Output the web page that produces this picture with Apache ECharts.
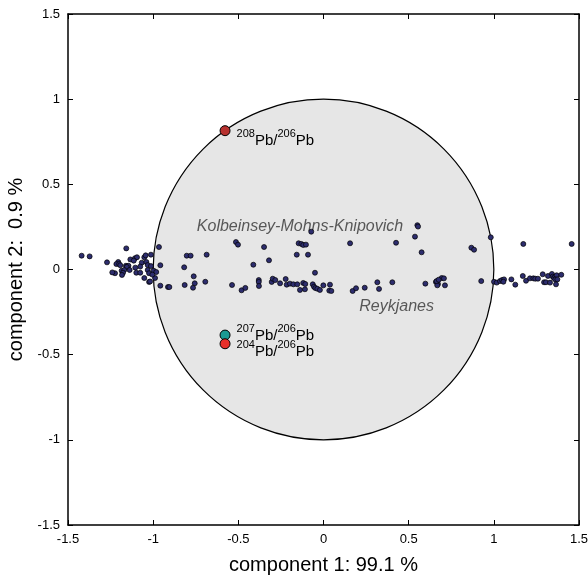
<!DOCTYPE html>
<html><head><meta charset="utf-8">
<script src="https://cdn.jsdelivr.net/npm/echarts@6/dist/echarts.min.js"></script>
<style>html,body{margin:0;padding:0;background:#fff}#c{width:588px;height:577px}</style>
</head><body><div id="c"></div>
<script>
// tick labels
const tickLabels = ['-1.5','-1','-0.5','0','0.5','1','1.5'];
// sample scores (component 1, component 2)
const sampleX = [
-1.420,-1.373,-1.271,-1.158,-1.205,-1.216,-1.200,-1.193,-1.160,-1.150,-1.145,-1.155,-1.224,-1.240,-1.185,-1.170,-1.177,-1.134,-1.107,-1.095,-1.114,-1.138,-1.067,-1.076,-1.040,-1.032,-1.052,-1.044,-1.013,-0.966,-1.099,-1.076,-1.032,-1.024,-1.052,-1.024,-0.989,-0.958,-0.958,-1.013,-0.997,-0.982,-1.005,-1.018,-1.183,-1.105,
-0.913,-0.905,-0.818,-0.803,-0.780,-0.686,-0.762,-0.756,-0.766,-0.815,-0.694,-0.537,-0.481,-0.459,-0.514,-0.502,-0.412,-0.349,-0.320,-0.380,-0.380,-0.379,-0.304,-0.298,-0.283,-0.255,-0.222,-0.216,-0.197,-0.177,-0.154,-0.138,-0.109,-0.119,-0.107,-0.063,-0.056,-0.048,-0.036,-0.021,-0.001,0.034,-0.050,-0.157,-0.091,-0.146,-0.130,-0.119,-0.103,-0.072,
0.551,0.555,0.537,0.156,0.426,0.576,0.868,0.884,0.038,0.046,0.171,0.191,0.242,0.316,0.326,0.404,0.598,0.660,0.672,0.668,0.694,0.707,0.713,0.664,0.676,0.926,
0.982,1.173,1.457,1.001,1.017,1.036,1.048,1.060,1.056,1.103,1.126,1.170,1.189,1.212,1.232,1.243,1.259,1.287,1.295,1.306,1.330,1.318,1.341,1.346,1.353,1.361,1.369,1.361,1.373,1.365,1.396];
const sampleY = [
0.081,0.077,0.042,0.124,0.044,0.032,0.032,0.025,0.022,0.018,0.022,0.015,-0.022,-0.017,-0.007,-0.003,-0.019,0.059,0.066,0.072,0.052,-0.003,0.040,0.017,0.044,0.026,0.072,0.083,0.087,0.132,-0.019,-0.019,-0.003,-0.022,-0.050,-0.073,-0.050,0.025,-0.095,0.020,-0.007,-0.015,-0.030,-0.070,-0.032,0.011,
-0.103,-0.103,0.013,0.081,0.081,0.087,-0.040,-0.081,-0.107,-0.091,-0.072,-0.091,-0.122,-0.108,0.161,0.146,0.028,0.132,0.054,-0.062,-0.073,-0.097,-0.073,-0.054,-0.062,-0.081,-0.056,-0.089,-0.083,-0.087,-0.087,-0.120,-0.116,-0.079,-0.085,-0.087,-0.101,-0.109,-0.113,-0.120,-0.093,-0.124,-0.019,0.087,0.087,0.154,0.150,0.144,0.146,0.222,
0.260,0.252,0.193,0.154,0.157,0.101,0.128,0.116,-0.089,-0.126,-0.126,-0.110,-0.107,-0.075,-0.114,-0.075,-0.083,-0.073,-0.085,-0.093,-0.050,-0.052,-0.093,-0.068,-0.060,-0.068,
0.189,0.150,0.150,-0.072,-0.077,-0.068,-0.062,-0.058,-0.072,-0.058,-0.089,-0.038,-0.066,-0.052,-0.052,-0.054,-0.054,-0.028,-0.075,-0.075,-0.077,-0.038,-0.026,-0.042,-0.050,-0.042,-0.034,-0.058,-0.058,-0.087,-0.031];
// variable loadings
const loadNames = ['208','207','204'];
const loadX = [-0.578,-0.578,-0.578];
const loadY = [0.815,-0.385,-0.436];
const loadColors = ['#b7312f','#1b9a93','#e8302a'];
// region annotations
const regionNames = ['Kolbeinsey-Mohns-Knipovich','Reykjanes'];
const regionX = [-0.138,0.429];
const regionY = [0.255,-0.218];

const FF = '"Liberation Sans", Arial, Helvetica, sans-serif';
const chart = echarts.init(document.getElementById('c'), null, {renderer:'canvas'});
const tickFmt = v => tickLabels[Math.round((v + 1.5) / 0.5)];
const axisBase = {
  type:'value', min:-1.5, max:1.5, interval:0.5,
  axisLine:{show:true, onZero:false, lineStyle:{color:'#000', width:1.5}},
  axisTick:{show:true, inside:true, length:5, lineStyle:{color:'#000', width:1}},
  splitLine:{show:false}
};
const labelOffsets = [[0,8],[0,-2],[0,6]];
chart.setOption({
  animation:false,
  grid:{left:68, top:14, right:9, bottom:52, outerBoundsMode:'none', containLabel:false},
  xAxis:[
    Object.assign({}, axisBase, {position:'bottom',
      axisLabel:{formatter:tickFmt, fontSize:13, color:'#000', margin:8, fontFamily:FF},
      name:'component 1: 99.1 %', nameLocation:'middle', nameGap:30,
      nameTextStyle:{fontSize:20, color:'#000', fontFamily:FF}}),
    Object.assign({}, axisBase, {position:'top', axisLabel:{show:false}})
  ],
  yAxis:[
    Object.assign({}, axisBase, {position:'left',
      axisLabel:{formatter:tickFmt, fontSize:13, color:'#000', margin:8, fontFamily:FF},
      name:'component 2:  0.9 %', nameLocation:'middle', nameGap:40,
      nameTextStyle:{fontSize:20, color:'#000', fontFamily:FF}}),
    Object.assign({}, axisBase, {position:'right', axisLabel:{show:false}})
  ],
  series:[
    {type:'custom', z:1, silent:true, data:[[0,0,1]], encode:{x:0,y:1},
      renderItem:(params, api)=>{
        const c = api.coord([api.value(0), api.value(1)]);
        const r = api.size([api.value(2), 0])[0];
        return {type:'circle', shape:{cx:c[0], cy:c[1], r:r},
          style:{fill:'#e6e6e6', stroke:'#000', lineWidth:1.2}};
      }},
    {type:'scatter', z:3, symbolSize:0, silent:true,
      data: regionNames.map((n,i)=>({name:n, value:[regionX[i], regionY[i]]})),
      label:{show:true, position:'inside', formatter:'{b}', fontStyle:'italic',
        fontSize:16, color:'#333', fontFamily:FF}},
    {type:'scatter', z:4, symbolSize:5, silent:true,
      data: sampleX.map((x,i)=>[x, sampleY[i]]),
      itemStyle:{color:'#2d2d6e', borderColor:'#000', borderWidth:0.7, opacity:1}},
    {type:'scatter', z:5, symbolSize:10, silent:true,
      data: loadNames.map((n,i)=>({name:n, value:[loadX[i], loadY[i]],
        itemStyle:{color:loadColors[i]},
        label:{offset:labelOffsets[i]}})),
      itemStyle:{borderColor:'#000', borderWidth:1, opacity:1},
      label:{show:true, position:'right', distance:6, color:'#000', fontFamily:FF,
        formatter: p => '{s|' + p.name + '}{m|Pb/}{s|206}{m|Pb}',
        rich:{
          m:{fontSize:15, lineHeight:20, color:'#000', fontFamily:FF, verticalAlign:'bottom'},
          s:{fontSize:11, lineHeight:11, color:'#000', fontFamily:FF, verticalAlign:'top'}
        }}}
  ]
});
</script></body></html>
